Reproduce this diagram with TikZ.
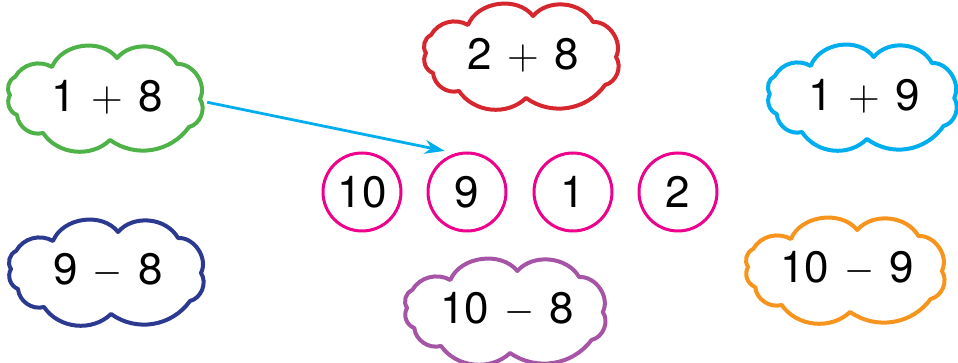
\RequirePackage{fix-cm}
\documentclass[tikz,border=0pt]{standalone}
\usepackage{fontspec}
\setmainfont{TeX Gyre Heros}
\usetikzlibrary{arrows.meta}
\definecolor{cgreen}{RGB}{78,178,72}
\definecolor{cred}{RGB}{214,38,46}
\definecolor{cblue}{RGB}{0,174,239}
\definecolor{cnavy}{RGB}{43,57,144}
\definecolor{cpurple}{RGB}{166,84,166}
\definecolor{corange}{RGB}{247,148,29}
\definecolor{cmag}{RGB}{236,0,140}
\newcommand\pl{\hspace{3pt}$+$\hspace{3pt}}
\newcommand\mi{\hspace{3pt}\scalebox{0.88}[1]{$-$}\hspace{3pt}}
\tikzset{
  cloudo/.pic={
    \draw[pic actions] (-97,2) to[bend left=50] (-92,20) to[bend left=45] (-55,30)
      to[bend left=60] (10,39) to[bend left=55] (70,33) to[bend left=60] (93,-2)
      to[bend left=55] (82,-30) to[bend left=45] (3,-43) to[bend left=50] (-64,-36)
      to[bend left=50] (-90,-18) to[bend left=50] (-97,2) -- cycle;
  },
  cloudline/.style={line width=4pt, line join=round},
  sumtext/.style={minimum width=200pt, minimum height=100pt, inner sep=0pt,
    font=\fontsize{44}{50}\selectfont},
  numcircle/.style={circle, draw=cmag, line width=3pt, minimum size=78pt,
    inner sep=0pt, font=\fontsize{44}{50}\selectfont},
}
\begin{document}
\begin{tikzpicture}[x=1pt,y=1pt]
\useasboundingbox (0,0) rectangle (958,363);
% clouds
\node[sumtext] (g) at (107,266) {1 \pl{} 8};
\pic[cloudline, cgreen] at (g) {cloudo};
\node[sumtext] (r) at (523,308) {2 \pl{} 8};
\pic[cloudline, cred] at (r) {cloudo};
\node[sumtext] (b) at (864,267) {1 \pl{} 9};
\pic[cloudline, cblue, xscale=0.97] at (b) {cloudo};
\node[sumtext] (n) at (108,92) {9 \mi{} 8};
\pic[cloudline, cnavy] at (n) {cloudo};
\node[sumtext] (p) at (507,53) {10 \mi{} 8};
\pic[cloudline, cpurple, xscale=1.03] at (p) {cloudo};
\node[sumtext] (o) at (847,94) {10 \mi{} 9};
\pic[cloudline, corange, xscale=1.02] at (o) {cloudo};
% circles
\node[numcircle] (c10) at (362,171) {10};
\node[numcircle] (c9) at (467,171) {9};
\node[numcircle] (c1) at (573,171) {1};
\node[numcircle] (c2) at (678,171) {2};
% arrow
\draw[cblue, line width=2.8pt, -{Stealth[length=20pt,width=14pt]}]
  (g.-3) -- ([shift={(-4,5)}]c9.117);
\end{tikzpicture}
\end{document}
